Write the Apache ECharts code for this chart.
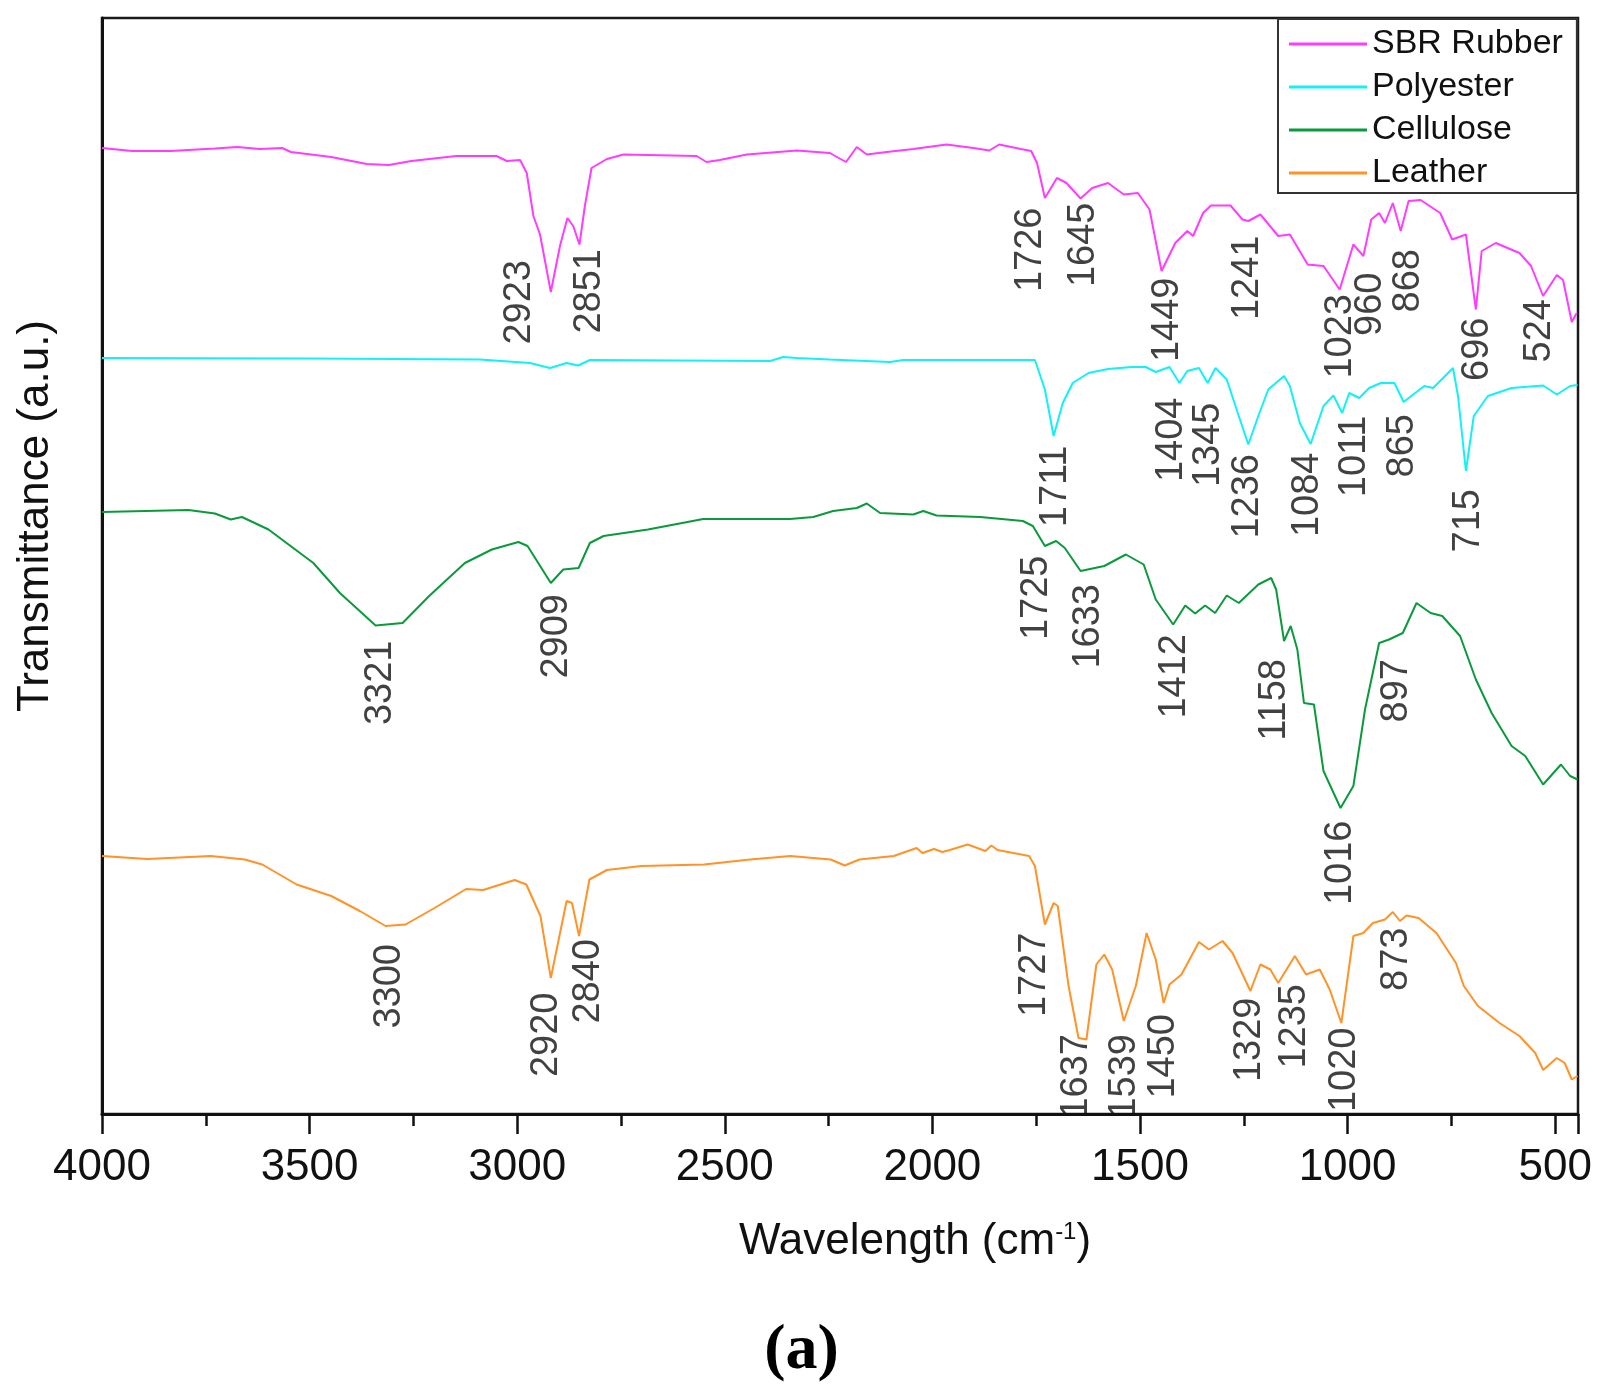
<!DOCTYPE html>
<html>
<head>
<meta charset="utf-8">
<title>FTIR</title>
<script src="https://cdn.jsdelivr.net/npm/echarts@6/dist/echarts.min.js"></script>
<style>
    html, body { margin: 0; padding: 0; background: #fff; }
    #charzhe { width: 1603px; height: 1398px; }
</style>
</head>
<body>
<div id="charzhe"></div>
<script>
// wavenumber (cm-1), transmittance (a.u., curves stacked with offsets)
var sbrRubber = [[4000,966],[3927,963],[3835,963],[3728,965.5],[3674,967],[3620,965],[3566,966],[3545,962],[3448,957],[3362,950],[3309,949],[3255,953],[3147,958],[3050,958],[3025,953],[2993,954],[2977,941],[2961,898],[2945,879.5],[2919,822],[2897,868],[2879,896],[2865,888],[2850,869.5],[2837,908],[2821,946],[2784,955],[2744,959.5],[2568,958],[2544,952],[2512,954],[2447,959.5],[2327,963.5],[2247,961],[2208,952],[2182,967],[2158,959.5],[2110,962],[2046,965],[1966,969.5],[1901,966],[1863,963.5],[1839,969.5],[1787,965],[1762,963],[1748,951],[1729,916],[1700,936],[1677,931],[1643,915.5],[1615,926],[1577,931],[1539,919.5],[1505,921],[1477,904.5],[1448,843],[1415,871],[1386,883],[1372,878],[1348,901],[1329,908.5],[1282,908.5],[1253,894.5],[1239,893],[1210,899.5],[1167,878],[1139,879.5],[1096,849.5],[1058,848],[1019,824.5],[986,869.5],[962,858],[943,894.5],[924,901],[910,891],[891,911],[872,883],[853,913],[824,914],[777,901],[748,874.5],[715,879.5],[691,804.5],[677,863],[643,871],[586,861],[558,848],[529,818],[496,839],[481,834],[460,792],[448,801]];
var polyester = [[4000,756],[3500,755.5],[3090,754.5],[2969,751],[2921,746],[2881,751],[2853,748.5],[2825,754],[2391,753],[2359,757],[2327,756],[2247,754.5],[2102,752],[2070,754],[1885,754],[1753,754],[1729,724.5],[1708,678],[1686,711],[1662,731],[1624,741],[1577,745],[1520,747],[1486,747],[1462,742],[1429,747],[1405,731],[1386,743],[1358,746],[1337,731],[1318,746],[1291,734.5],[1262,698],[1239,669.5],[1215,698],[1191,724.5],[1153,738],[1139,728],[1115,691],[1089,670],[1058,708],[1034,718.5],[1013,701],[996,721],[972,716],[948,726],[920,731],[887,731],[865,712],[842,719.5],[815,728],[794,726],[746,746],[734,718],[715,643],[696,698],[662,718],[605,726],[529,728.5],[496,719.5],[464,728],[446,729]];
var cellulose = [[4000,602],[3792,604],[3728,600.5],[3690,594.5],[3663,597],[3599,584.5],[3491,551],[3427,521],[3341,488.5],[3276,491],[3212,518],[3126,551],[3061,564.5],[2997,572],[2975,568],[2919,531],[2889,544.5],[2852,546],[2825,571],[2792,578],[2685,584.5],[2552,595],[2343,595],[2287,597],[2239,603],[2182,606],[2158,610.5],[2126,601],[2046,599.5],[2022,603],[1990,598.5],[1885,597],[1782,593],[1758,588],[1729,568],[1702,573],[1681,566],[1643,543],[1586,548],[1534,559.5],[1491,549.5],[1462,514.5],[1420,489.5],[1391,508.5],[1367,500.5],[1343,508.5],[1319,501],[1291,518.5],[1262,511],[1215,529.5],[1184,536],[1172,524.5],[1153,473],[1137,488],[1121,464.5],[1105,411],[1081,409.5],[1058,343],[1017,306],[986,328],[958,404.5],[924,471],[900,474.5],[867,481],[834,511],[800,501],[772,498],[729,478],[691,434.5],[653,401],[605,368],[572,358],[529,329.5],[486,349.5],[464,338],[446,334.5]];
var leather = [[4000,258],[3891,255],[3738,258],[3656,254.5],[3614,249.5],[3531,229.5],[3448,218],[3379,203],[3317,188],[3269,189.5],[3199,206],[3123,225],[3082,224],[3006,234],[2978,229.5],[2944,198],[2919,136],[2881,213],[2868,211],[2851,178],[2826,234.5],[2784,244],[2701,248],[2550,249.5],[2439,254.5],[2342,258],[2245,254.5],[2211,248.5],[2176,254.5],[2093,258],[2038,266],[2024,261],[1996,265],[1976,262],[1958,264],[1915,269.5],[1872,263],[1858,268.5],[1843,264],[1767,258],[1753,248],[1729,189.5],[1708,211],[1698,208],[1672,128],[1648,76],[1629,74.5],[1605,149.5],[1586,159.5],[1567,144.5],[1539,93],[1510,128],[1484,181],[1462,154.5],[1443,111],[1429,129.5],[1400,139.5],[1358,172],[1334,164.5],[1301,173],[1277,161],[1234,123],[1210,149.5],[1186,144.5],[1167,131],[1127,158],[1100,139.5],[1067,144.5],[1043,124.5],[1015,91],[986,178],[962,181],[939,191],[910,194.5],[891,202],[874,193],[858,198.5],[829,196],[786,181],[739,151],[720,128],[686,108],[634,91],[586,78],[548,61],[529,44],[496,56],[477,51],[460,34.5],[446,38]];

// peak annotations: [wavenumber where the text stands, transmittance at its upper end, text]
var sbrPeaks = [[2994,853.5,'2923'],[2825,864.5,'2851'],[1762,906,'1726'],[1634,911,'1645'],[1432,836,'1449'],[1239,878,'1241'],[1015,819.5,'1023'],[944,841,'960'],[853,864.5,'868'],[686,796,'696'],[537,814.5,'524']];
var polyesterPeaks = [[1703,668,'1711'],[1422,716,'1404'],[1334,711,'1345'],[1239,659.5,'1236'],[1096,661,'1084'],[982,698,'1011'],[867,699.5,'865'],[708,624.5,'715']];
var cellulosePeaks = [[3328,473,'3321'],[2905,519.5,'2909'],[1748,558,'1725'],[1622,529.5,'1633'],[1415,479.5,'1412'],[1175,454.5,'1158'],[1015,293,'1016'],[881,454.5,'897']];
var leatherPeaks = [[3307,169.5,'3300'],[2927,121,'2920'],[2826,174.5,'2840'],[1753,181,'1727'],[1651,79.5,'1637'],[1537,79.5,'1539'],[1441,99.5,'1450'],[1234,116,'1329'],[1127,129.5,'1235'],[1005,86,'1020'],[881,186,'873']];

var names = ['SBR Rubber', 'Polyester', 'Cellulose', 'Leather'];
var colors = ['#FF3CFF', '#12F2F2', '#0A9A3C', '#FF9328'];
var font = '"Liberation Sans", Arial, sans-serif';

var dom = document.getElementById("charzhe");
var myChart = echarts.init(dom);

function line(name, data, color) {
    return {
        name: name,
        type: 'line',
        data: data,
        symbol: 'none',
        animation: false,
        lineStyle: {color: color, width: 2},
        itemStyle: {color: color}
    };
}

var allPeaks = sbrPeaks.concat(polyesterPeaks, cellulosePeaks, leatherPeaks);

option = {
    backgroundColor: '#fff',
    animation: false,
    title: {
        text: '(a)',
        left: 'center',
        top: 1314,
        textStyle: {fontFamily: '"Liberation Serif", "Times New Roman", serif', fontWeight: 'bold', fontSize: 64, color: '#000'}
    },
    legend: {
        data: names,
        orient: 'vertical',
        left: 1278,
        top: 19,
        icon: 'rect',
        itemWidth: 78,
        itemHeight: 3,
        itemGap: 9,
        padding: [8, 14, 3, 11],
        backgroundColor: '#fff',
        borderColor: '#333',
        borderWidth: 2,
        textStyle: {fontFamily: font, fontSize: 34, color: '#111'}
    },
    grid: {
        left: 102,
        right: 25,
        top: 18,
        bottom: 284,
        show: true,
        borderColor: '#1a1a1a',
        borderWidth: 2.5
    },
    xAxis: {
        type: 'value',
        inverse: true,
        min: 445,
        max: 4000,
        splitNumber: 7,
        name: 'Wavelength (cm{sup|-1})',
        nameLocation: 'middle',
        nameGap: 106,
        nameTextStyle: {
            fontFamily: font, fontSize: 44, color: '#111',
            padding: [0, 0, 0, 150],
            rich: {sup: {fontFamily: font, fontSize: 24, color: '#111', verticalAlign: 'top'}}
        },
        axisLine: {lineStyle: {color: '#111', width: 3}},
        axisTick: {inside: false, length: 20, lineStyle: {color: '#111', width: 2.5}},
        minorTick: {show: true, splitNumber: 2, length: 12, lineStyle: {color: '#111', width: 2.5}},
        axisLabel: {
            fontFamily: font, fontSize: 44, color: '#111', margin: 32,
            showMinLabel: false,
            formatter: function (v) { return v % 500 === 0 ? v : ''; }
        },
        splitLine: {show: false}
    },
    yAxis: {
        type: 'value',
        min: 0,
        max: 1096,
        name: 'Transmittance (a.u.)',
        nameLocation: 'middle',
        nameGap: 44,
        nameTextStyle: {fontFamily: font, fontSize: 44, color: '#111', padding: [0, 0, 0, 100]},
        axisLine: {show: true, lineStyle: {color: '#111', width: 3}},
        axisTick: {show: false},
        axisLabel: {show: false},
        splitLine: {show: false}
    },
    series: [
        line(names[0], sbrRubber, colors[0]),
        line(names[1], polyester, colors[1]),
        line(names[2], cellulose, colors[2]),
        line(names[3], leather, colors[3]),
        {
            name: 'peaks',
            type: 'scatter',
            silent: true,
            symbolSize: 1,
            itemStyle: {color: 'rgba(0,0,0,0)'},
            data: allPeaks,
            z: 5,
            label: {
                show: true,
                position: [0, 0],
                rotate: 90,
                align: 'right',
                verticalAlign: 'middle',
                fontFamily: font,
                fontSize: 38,
                color: '#111',
                formatter: function (p) { return p.value[2]; }
            }
        }
    ]
};

myChart.setOption(option);
</script>
</body>
</html>
